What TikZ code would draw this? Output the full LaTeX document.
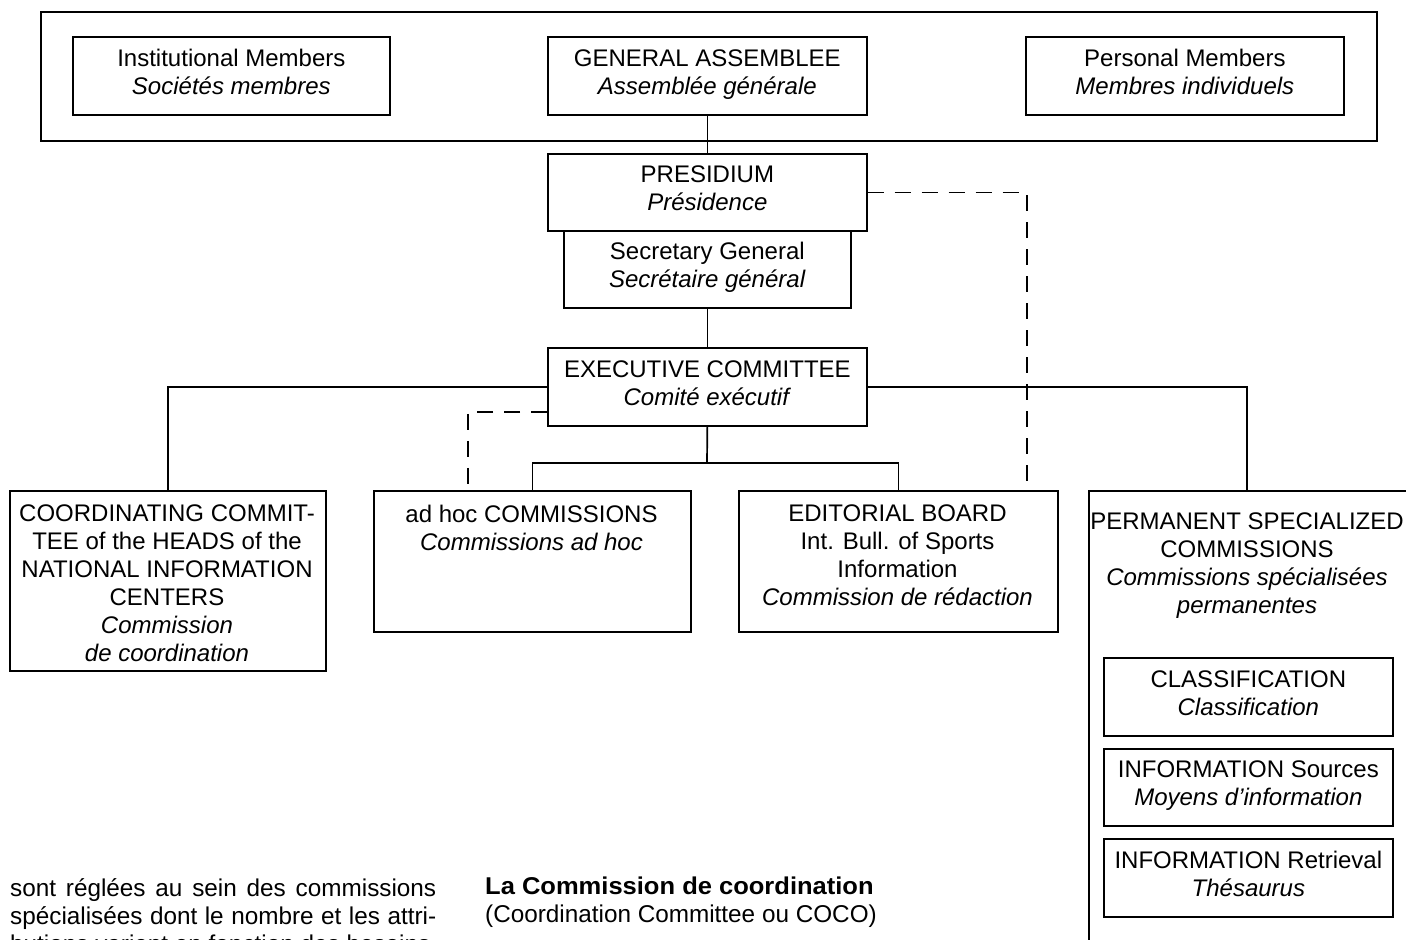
\documentclass[tikz,border=0pt]{standalone}
\usepackage{fontspec}
\setmainfont{Liberation Sans}
\begin{document}
\begin{tikzpicture}[x=1pt,y=-1pt,
  box/.style={draw,line width=1.7pt,inner sep=0pt,anchor=north west},
  cbox/.style={box,align=center,font=\fontsize{24}{28}\selectfont,
    execute at begin node=\strut,execute at end node=\strut},
  txt/.style={align=center,inner sep=0pt,font=\fontsize{24}{28}\selectfont,
    execute at begin node=\strut,execute at end node=\strut},
  body/.style={inner sep=0pt,font=\fontsize{24.3}{28}\selectfont},
  link/.style={line width=1.7pt},
  dlink/.style={line width=1.7pt,dash pattern=on 16pt off 11pt}]
\useasboundingbox (0,0) rectangle (1406,940);
\begin{scope}
\clip (0,0) rectangle (1406,940);
% top group
\node[box,minimum width=1336pt,minimum height=129pt] (outer) at (40,11) {};
\node[cbox,minimum width=317pt,minimum height=78pt] (inst) at (72,36) {Institutional Members\\\textit{Sociétés membres}};
\node[cbox,minimum width=319pt,minimum height=78pt] (ga) at (547,36) {GENERAL ASSEMBLEE\\\textit{Assemblée générale}};
\node[cbox,minimum width=318pt,minimum height=78pt] (pers) at (1025,36) {Personal Members\\\textit{Membres individuels}};
% presidium / secretary
\node[cbox,minimum width=319pt,minimum height=77pt] (pres) at (547,153) {PRESIDIUM\\\textit{Présidence}};
\node[cbox,minimum width=287pt,minimum height=77pt] (sec) at (563,230) {Secretary General\\\textit{Secrétaire général}};
% executive
\node[cbox,minimum width=319pt,minimum height=78pt] (exec) at (547,347) {EXECUTIVE COMMITTEE\\\textit{Comité exécutif}};
% lower boxes
\node[box,minimum width=316pt,minimum height=180pt] (coord) at (9,490) {};
\node[txt,anchor=north] (coordT) at (167,505) {COORDINATING COMMIT-\\TEE of the HEADS of the\\NATIONAL INFORMATION\\CENTERS\\\textit{Commission}\\\textit{de coordination}};
\node[box,minimum width=317pt,minimum height=141pt] (adhoc) at (373,490) {};
\node[txt,anchor=north] (adhocT) at (531.5,505) {ad hoc COMMISSIONS\\\textit{Commissions ad hoc}};
\node[box,minimum width=319pt,minimum height=141pt] (edit) at (738,490) {};
\node[txt,anchor=north] (editT) at (897.5,505) {EDITORIAL BOARD\\Int. Bull. of Sports\\Information\\\textit{Commission de rédaction}};
\node[box,minimum width=340pt,minimum height=480pt] (psc) at (1088,490) {};
\node[txt,anchor=north] (pscT) at (1247,513) {PERMANENT SPECIALIZED\\COMMISSIONS\\\textit{Commissions spécialisées}\\\textit{permanentes}};
\node[cbox,minimum width=289pt,minimum height=78pt] (cls) at (1103,657) {CLASSIFICATION\\\textit{Classification}};
\node[cbox,minimum width=289pt,minimum height=77pt] (src) at (1103,748) {INFORMATION Sources\\\textit{Moyens d’information}};
\node[cbox,minimum width=289pt,minimum height=78pt] (ret) at (1103,838) {INFORMATION Retrieval\\\textit{Thésaurus}};
% connectors
\draw[link] (ga.south) -- (pres.north);
\draw[link] (sec.south) -- (exec.north);
\draw[link] (exec.west) -| (coord.north);
\draw[link] (exec.east) -| ([xshift=159pt]psc.north west);
\coordinate (j) at (707,463);
\draw[link] (exec.south) -- (j);
\draw[link] (adhoc.north) |- (j) -| (edit.north);
\draw[dlink] ([yshift=-25pt]exec.west) -| ([xshift=95pt]adhoc.north west);
\draw[dlink] (pres.east) -| ([xshift=-32pt]edit.north east);
% body text
\node[body,anchor=north west,text width=426pt,align=justify] (bodyL) at (10,878) {sont réglées au sein des commissions spécialisées dont le nombre et les attri\-butions varient en fonction des besoins};
\node[body,anchor=north west,align=left] (bodyR) at (485,877) {\scalebox{1.05}[1]{\textbf{La Commission de coordination}}\\(Coordination Committee ou COCO)};
\end{scope}
\end{tikzpicture}
\end{document}
